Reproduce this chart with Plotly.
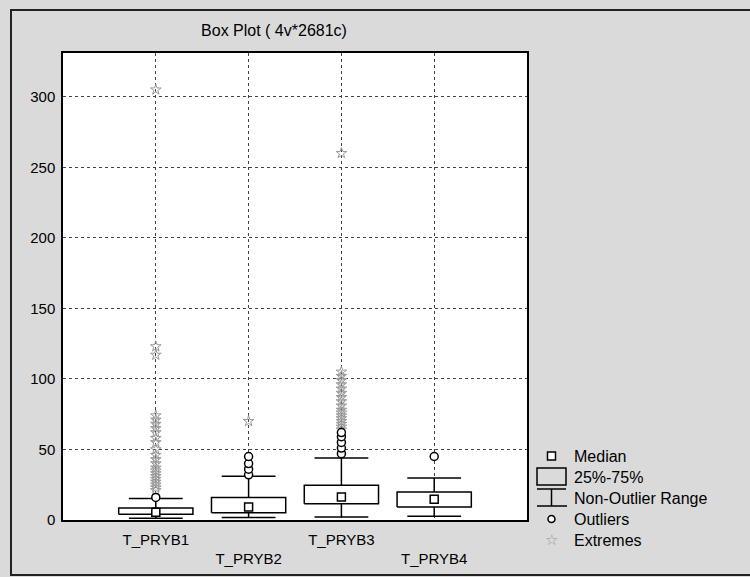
import plotly.graph_objects as go

categories = ["T_PRYB1", "T_PRYB2", "T_PRYB3", "T_PRYB4"]
tick_labels = ["T_PRYB1", "<br>T_PRYB2", "T_PRYB3", "<br>T_PRYB4"]
q1 = [4.0, 5.2, 11.6, 9.2]
median = [5.5, 9.2, 16.3, 14.7]
q3 = [8.5, 15.9, 24.6, 19.9]
whisker_low = [1.2, 1.7, 2.1, 2.6]
whisker_high = [15.2, 31.0, 44.0, 29.8]
outliers = [
    [16.0],
    [32.0, 36.0, 40.0, 45.0],
    [47.0, 51.0, 55.0, 59.0, 62.0],
    [45.0],
]
extremes = [
    [21, 23, 25, 27, 29, 31, 33, 35, 37, 40, 43, 46, 50, 55, 58, 62, 65, 68, 71, 74, 117, 123, 305],
    [70],
    [64, 66, 68, 70, 72, 74, 76, 78, 81, 84, 87, 90, 93, 96, 99, 102, 105, 260],
    [],
]
legend_labels = ["Median", "25%-75%", "Non-Outlier Range", "Outliers", "Extremes"]

BOX_HALF = 0.4
CAP_HALF = 0.29
pos = list(range(len(categories)))

# figure geometry (pixels)
L, R, T, B = 63, 527, 53, 520
W, H = 750, 577
XR = [-1, 4]
YR = [0, 331]


def px2x(px):
    return (px - L) / (R - L)


def py2y(py):
    return (B - py) / (B - T)


# whiskers (vertical + caps)
wx, wy = [], []
for i in pos:
    wx += [i, i, None, i - CAP_HALF, i + CAP_HALF, None, i - CAP_HALF, i + CAP_HALF, None]
    wy += [whisker_low[i], whisker_high[i], None, whisker_low[i], whisker_low[i], None,
           whisker_high[i], whisker_high[i], None]

# boxes
bx, by = [], []
for i in pos:
    bx += [i - BOX_HALF, i + BOX_HALF, i + BOX_HALF, i - BOX_HALF, i - BOX_HALF, None]
    by += [q1[i], q1[i], q3[i], q3[i], q1[i], None]

ox, oy, ex, ey = [], [], [], []
for i in pos:
    ox += [i] * len(outliers[i]); oy += outliers[i]
    ex += [i] * len(extremes[i]); ey += extremes[i]

EXT_MARKER = dict(symbol="star-open", size=8, color="#999999", line=dict(width=1, color="#999999"))
OUT_MARKER = dict(symbol="circle", size=8, color="white", line=dict(width=1.5, color="black"))
MED_MARKER = dict(symbol="square", size=8, color="white", line=dict(width=1.5, color="black"))

fig = go.Figure()
fig.add_trace(go.Scatter(x=wx, y=wy, mode="lines", name="Non-Outlier Range",
                         line=dict(color="black", width=1.5), hoverinfo="skip"))
fig.add_trace(go.Scatter(x=bx, y=by, mode="lines", fill="toself", fillcolor="white",
                         name="25%-75%", line=dict(color="black", width=1.5), hoverinfo="skip"))
fig.add_trace(go.Scatter(x=ex, y=ey, mode="markers", name="Extremes", marker=EXT_MARKER))
fig.add_trace(go.Scatter(x=ox, y=oy, mode="markers", name="Outliers", marker=OUT_MARKER))
fig.add_trace(go.Scatter(x=pos, y=median, mode="markers", name="Median", marker=MED_MARKER))

# manual legend (decoration in paper coordinates)
icon_cx = 551.5
rows_py = [456, 477, 498, 519, 540]


def line_shape(x0, y0, x1, y1, color="black", width=1.5):
    return dict(type="line", xref="paper", yref="paper",
                x0=px2x(x0), x1=px2x(x1), y0=py2y(y0), y1=py2y(y1),
                line=dict(color=color, width=width))


shapes = [
    dict(type="rect", xref="paper", yref="paper",
         x0=px2x(11), x1=px2x(760), y0=py2y(575), y1=py2y(10),
         line=dict(color="#222", width=2), layer="below"),
    # median icon
    dict(type="rect", xref="paper", yref="paper",
         x0=px2x(icon_cx - 4), x1=px2x(icon_cx + 4), y0=py2y(rows_py[0] + 4), y1=py2y(rows_py[0] - 4),
         line=dict(color="black", width=1.5), fillcolor="white"),
    # box icon
    dict(type="rect", xref="paper", yref="paper",
         x0=px2x(537), x1=px2x(566), y0=py2y(485), y1=py2y(468),
         line=dict(color="black", width=1.5), fillcolor="rgba(0,0,0,0)"),
    # whisker icon
    line_shape(537, 489, 566, 489),
    line_shape(icon_cx, 489, icon_cx, 506),
    line_shape(537, 506, 567, 506),
    # outlier icon
    dict(type="circle", xref="paper", yref="paper",
         x0=px2x(icon_cx - 3.5), x1=px2x(icon_cx + 3.5), y0=py2y(rows_py[3] + 3.5), y1=py2y(rows_py[3] - 3.5),
         line=dict(color="black", width=1.5), fillcolor="white"),
]

annotations = [
    dict(text=lab, xref="paper", yref="paper", x=px2x(572), y=py2y(py),
         xanchor="left", yanchor="middle", showarrow=False, font=dict(size=16))
    for lab, py in zip(legend_labels, rows_py)
]
annotations.append(dict(text="☆", xref="paper", yref="paper", x=px2x(icon_cx), y=py2y(rows_py[4]),
                        xanchor="center", yanchor="middle", showarrow=False,
                        font=dict(size=15, color="#999999", family="DejaVu Sans")))

fig.update_layout(
    width=W, height=H,
    margin=dict(l=L, r=W - R, t=T, b=H - B),
    paper_bgcolor="#dadada",
    plot_bgcolor="white",
    font=dict(family="Liberation Sans, Arial, sans-serif", size=15, color="black"),
    title=dict(text="Box Plot ( 4v*2681c)", x=274 / W, xanchor="center",
               y=1 - 30 / H, yanchor="middle", font=dict(size=16)),
    showlegend=False,
    xaxis=dict(range=XR, tickvals=pos, ticktext=tick_labels, showgrid=True,
               gridcolor="#444", griddash="dot", gridwidth=1, zeroline=False,
               showline=True, linecolor="black", linewidth=1.5, mirror=True,
               ticks="", ticklabelstandoff=5, automargin=False),
    yaxis=dict(range=YR, tickvals=[0, 50, 100, 150, 200, 250, 300], showgrid=True,
               gridcolor="#444", griddash="dot", gridwidth=1, zeroline=False,
               showline=True, linecolor="black", linewidth=1.5, mirror=True,
               ticks="", ticklabelstandoff=3, automargin=False),
    shapes=shapes,
    annotations=annotations,
)

fig.write_html("out.html")
